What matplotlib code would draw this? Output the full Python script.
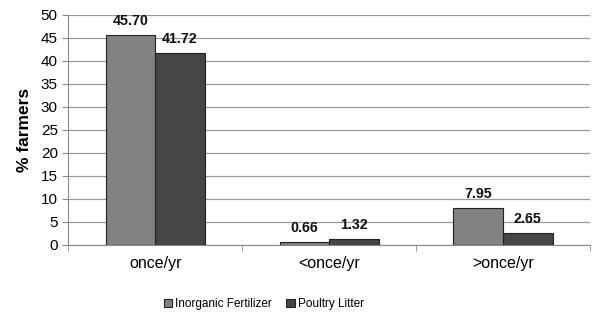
import numpy as np
import matplotlib.pyplot as plt

categories = ['once/yr', '<once/yr', '>once/yr']
inorganic = [45.70, 0.66, 7.95]
poultry = [41.72, 1.32, 2.65]
series_names = ['Inorganic Fertilizer', 'Poultry Litter']

plt.rcParams['font.family'] = ['Liberation Sans', 'DejaVu Sans']

fig = plt.figure(figsize=(5.93, 3.16), dpi=100)
ax = fig.add_axes([0.115, 0.225, 0.88, 0.728])

x = np.arange(len(categories))
w = 0.285
b1 = ax.bar(x - w/2, inorganic, w, color='#828282', edgecolor='#222222', linewidth=0.8,
            label=series_names[0], zorder=3)
b2 = ax.bar(x + w/2, poultry, w, color='#454545', edgecolor='#222222', linewidth=0.8,
            label=series_names[1], zorder=3)

for bars in (b1, b2):
    for r in bars:
        ax.text(r.get_x() + r.get_width()/2, r.get_height() + 1.5, '%.2f' % r.get_height(),
                ha='center', va='bottom', fontsize=10.3, fontweight='bold', color='#111111')

ax.set_xlim(-0.5, 2.5)
ax.set_ylim(0, 50)
ax.set_yticks(range(0, 51, 5))
ax.set_xticks(x)
ax.set_xticklabels(categories, fontsize=11.5)
ax.set_xticks([-0.5, 0.5, 1.5, 2.5], minor=True)
ax.tick_params(axis='x', which='major', length=0, pad=8)
ax.tick_params(axis='x', which='minor', length=4, color='#888888')
ax.tick_params(axis='y', labelsize=11, length=4, color='#888888')
ax.grid(axis='y', color='#999999', linewidth=0.9, zorder=0)
for s in ['top', 'right']:
    ax.spines[s].set_visible(False)
ax.spines['left'].set_color('#888888')
ax.spines['bottom'].set_color('#888888')
ax.set_ylabel('% farmers', fontsize=12.5, fontweight='bold', labelpad=6)

fig.legend(loc='center', bbox_to_anchor=(0.445, 0.038), ncol=2, frameon=False,
           fontsize=8.5, handlelength=0.7, handleheight=0.7, handletextpad=0.3,
           columnspacing=1.2)

fig.savefig('out.png', dpi=100)
